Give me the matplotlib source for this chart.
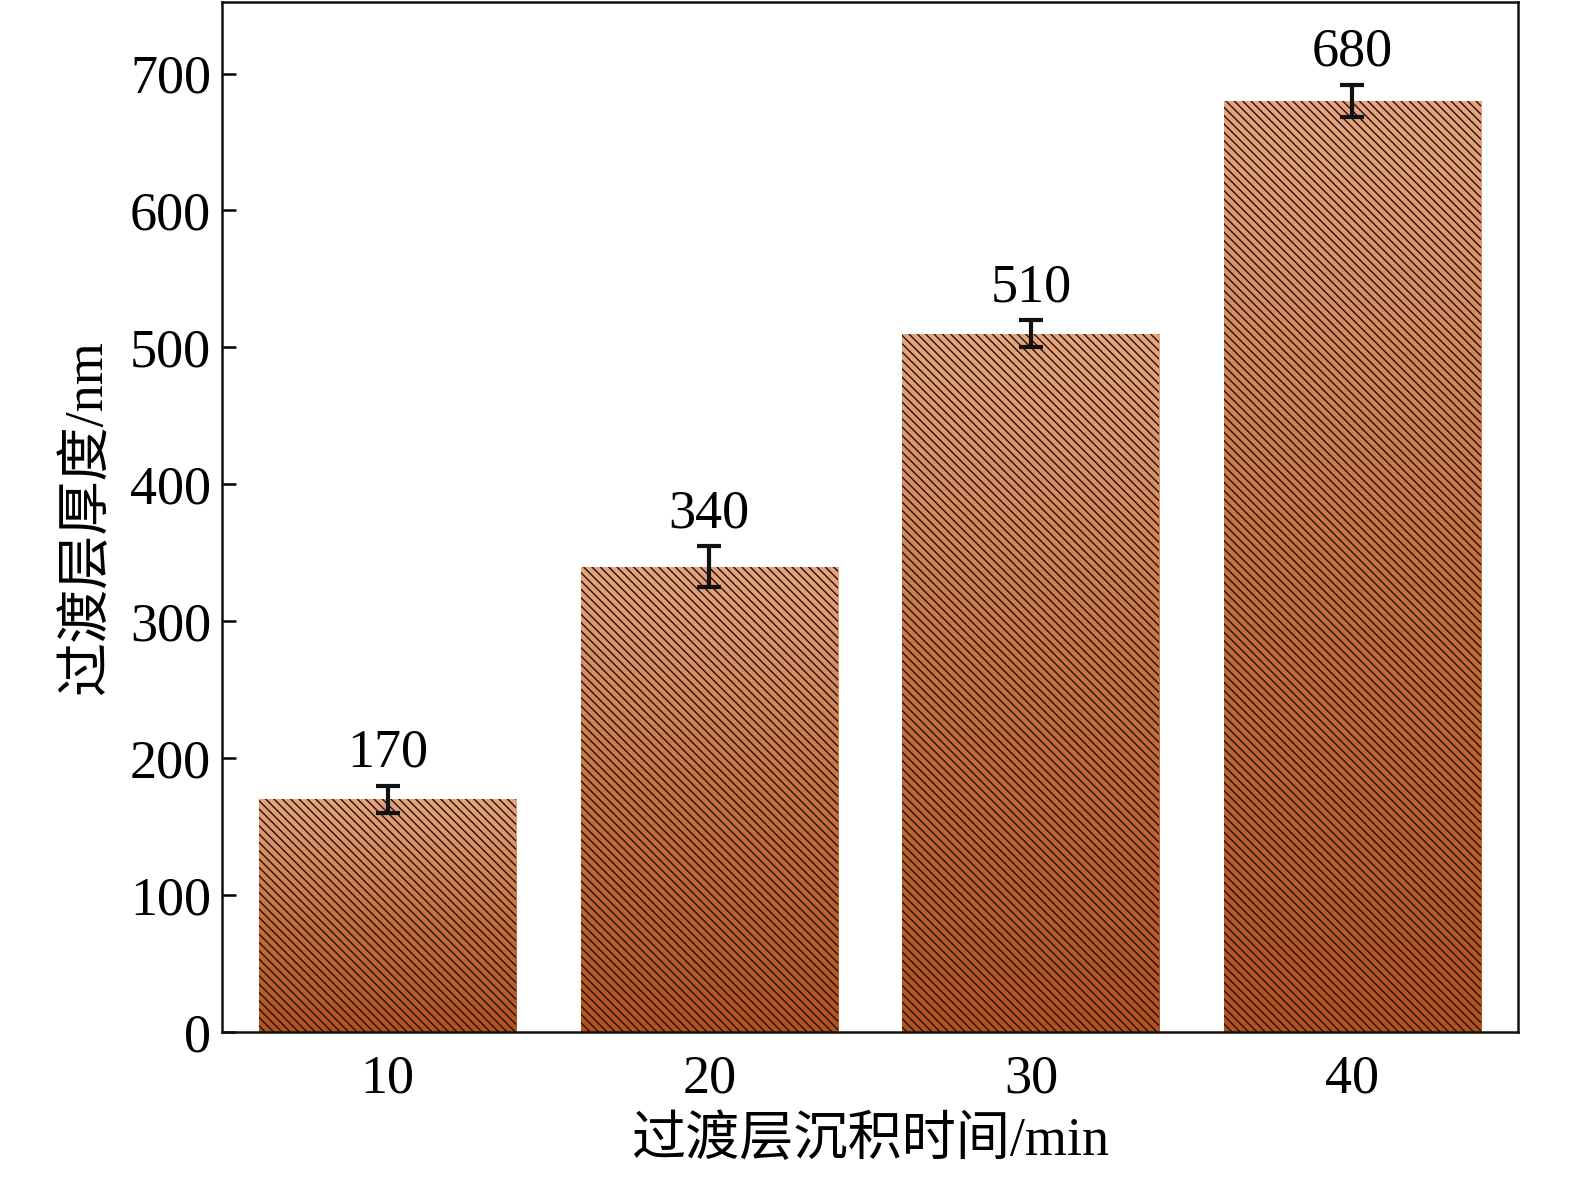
import numpy as np
import matplotlib
matplotlib.use("Agg")
import matplotlib.pyplot as plt
from matplotlib.colors import LinearSegmentedColormap

plt.rcParams['font.family'] = ['Liberation Serif', 'Noto Sans CJK SC']
plt.rcParams['hatch.linewidth'] = 1.0

categories = ['10', '20', '30', '40']
values = [170, 340, 510, 680]
errors = [10, 15, 10, 12]
yticks = [0, 100, 200, 300, 400, 500, 600, 700]

fig = plt.figure(figsize=(15.75, 11.83), dpi=100)
ax = fig.add_axes([0.141, 0.1276, 0.8228, 0.8704])

x = np.arange(len(categories))
cmap = LinearSegmentedColormap.from_list('cu', ['#b4521f', '#c8703f', '#e8a47c'])
grad = np.linspace(0, 1, 256).reshape(-1, 1)

bars = ax.bar(x, values, width=0.8, facecolor='none', edgecolor='#1a1410',
              hatch='\\\\\\\\', zorder=3, linewidth=0)
for b in bars:
    x0, y0 = b.get_x(), b.get_y()
    w, h = b.get_width(), b.get_height()
    im = ax.imshow(grad, cmap=cmap, aspect='auto', origin='lower',
                   extent=[x0, x0 + w, y0, y0 + h], zorder=2, interpolation='bilinear')
    im.set_clip_path(b)

ax.errorbar(x, values, yerr=errors, fmt='none', ecolor='#111111', elinewidth=3,
            capsize=8.5, capthick=3, zorder=4)
for xi, v, e in zip(x, values, errors):
    ax.annotate(str(v), (xi, v + e), xytext=(0, 5), textcoords='offset points',
                ha='center', va='bottom', fontsize=39, zorder=5)

ax.set_xlim(-0.515, 3.515)
ax.set_ylim(0, 752)
ax.set_xticks(x)
ax.set_xticklabels(categories)
ax.set_yticks(yticks)
ax.tick_params(direction='in', length=10, width=1.8, labelsize=39)
ax.tick_params(axis='x', pad=16)
ax.tick_params(axis='y', pad=8)
for s in ax.spines.values():
    s.set_linewidth(1.8)
    s.set_color('#111111')

ax.set_xlabel('过渡层沉积时间/min', fontsize=39, labelpad=8)
ax.set_ylabel('过渡层厚度/nm', fontsize=39, labelpad=12)

fig.savefig('out.png', dpi=100)
